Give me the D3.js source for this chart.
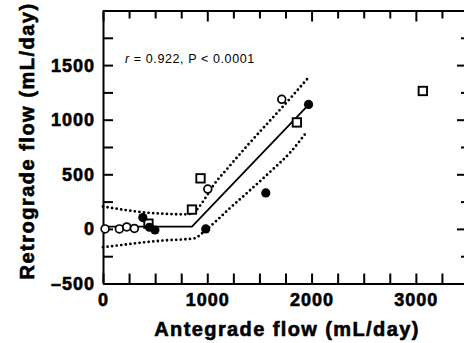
<!DOCTYPE html>
<html lang="en">
<head>
    <title>Retrograde vs antegrade flow</title>
    <script src='https://d3js.org/d3.v7.min.js'></script>
    <style>
        body { margin: 0; background: #fff; }
        text { font-family: "Liberation Sans", Arial, Helvetica, sans-serif; }
        .heavy { font-weight: bold; stroke: black; stroke-width: 0.6px; }
    </style>
</head>
<body>
<script>
    // Data (mL/day)
    const openCircles   = [ {x: 20, y: 0}, {x: 157, y: 0}, {x: 228, y: 18}, {x: 301, y: 4},
                            {x: 1005, y: 365}, {x: 1714, y: 1187} ];
    const filledCircles = [ {x: 382, y: 104}, {x: 445, y: 15}, {x: 498, y: -10},
                            {x: 985, y: 0}, {x: 1561, y: 329}, {x: 1971, y: 1140} ];
    const squares       = [ {x: 436, y: 48}, {x: 853, y: 177}, {x: 935, y: 463},
                            {x: 1859, y: 975}, {x: 3067, y: 1263} ];

    // fitted segmented regression + confidence band
    const fitLine   = [ {x: 0, y: 20}, {x: 853, y: 20}, {x: 1975, y: 1140} ];
    const upperBand = [ {x: 0, y: 205}, {x: 200, y: 175}, {x: 400, y: 150}, {x: 600, y: 138},
                        {x: 780, y: 133}, {x: 860, y: 142}, {x: 920, y: 200}, {x: 1000, y: 310},
                        {x: 1060, y: 400}, {x: 1200, y: 560}, {x: 1400, y: 780}, {x: 1600, y: 990},
                        {x: 1800, y: 1200}, {x: 1960, y: 1375} ];
    const lowerBand = [ {x: 0, y: -168}, {x: 200, y: -145}, {x: 400, y: -122}, {x: 600, y: -105},
                        {x: 800, y: -94}, {x: 880, y: -86}, {x: 950, y: -40}, {x: 1000, y: 0},
                        {x: 1100, y: 85}, {x: 1200, y: 175}, {x: 1400, y: 345}, {x: 1600, y: 520},
                        {x: 1800, y: 705}, {x: 1955, y: 890} ];

    const xMajor = [0, 1000, 2000, 3000];
    const yMajor = [-500, 0, 500, 1000, 1500];
    const annotation = "r = 0.922, P < 0.0001";

    // Dimensions
    const width = 464, height = 343;
    const padLeft = 103, padRight = 468, padTop = 10.5, padBottom = 283.5;

    const svg = d3.select("body")
                  .append("svg")
                  .attr("width", width)
                  .attr("height", height);

    const x = d3.scaleLinear().domain([0, 3500]).range([padLeft, padRight]);
    const y = d3.scaleLinear().domain([-500, 2000]).range([padBottom, padTop]);

    const xTicks = d3.range(0, 3501, 250);
    const yTicks = d3.range(-500, 2001, 250);

    // bottom axis
    svg.append("g")
       .attr("transform", `translate(0,${padBottom})`)
       .call(d3.axisBottom(x).tickValues(xTicks).tickSizeInner(-10).tickSizeOuter(0).tickFormat(""))
       .call(g => g.selectAll("line").attr("stroke-width", 2))
       .call(g => g.select(".domain").attr("stroke-width", 2));

    // top axis
    svg.append("g")
       .attr("transform", `translate(0,${padTop})`)
       .call(d3.axisTop(x).tickValues(xTicks).tickSizeInner(0).tickSizeOuter(0).tickFormat(""))
       .call(g => g.select(".domain").attr("stroke-width", 2))
       .call(g => g.selectAll(".tick line")
                   .attr("y2", d => d % 1000 === 0 ? 11 : 8)
                   .attr("stroke-width", 2));

    // left axis
    svg.append("g")
       .attr("transform", `translate(${padLeft},0)`)
       .call(d3.axisLeft(y).tickValues(yTicks).tickSizeInner(-10).tickSizeOuter(0).tickFormat(""))
       .call(g => g.selectAll("line").attr("stroke-width", 2))
       .call(g => g.select(".domain").attr("stroke-width", 2));

    // right axis
    svg.append("g")
       .attr("transform", `translate(${padRight},0)`)
       .call(d3.axisRight(y).tickValues(yTicks).tickSizeInner(0).tickSizeOuter(0).tickFormat(""))
       .call(g => g.select(".domain").attr("stroke-width", 2))
       .call(g => g.selectAll(".tick line")
                   .attr("x2", d => d % 500 === 0 ? -11 : -7)
                   .attr("stroke-width", 2));

    // tick labels
    svg.selectAll(".xlab")
       .data(xMajor)
       .enter()
       .append("text")
       .attr("class", "heavy")
       .attr("x", d => x(d) + 0.5)
       .attr("y", 305.5)
       .attr("text-anchor", "middle")
       .style("font-size", "18px")
       .style("letter-spacing", "1px")
       .text(d => d);

    svg.selectAll(".ylab")
       .data(yMajor)
       .enter()
       .append("text")
       .attr("class", "heavy")
       .attr("x", 95)
       .attr("y", d => y(d) + 6.5)
       .attr("text-anchor", "end")
       .style("font-size", "18px")
       .style("letter-spacing", "1px")
       .text(d => d < 0 ? "\u2013" + Math.abs(d) : d);

    // axis titles
    svg.append("text")
       .attr("class", "heavy")
       .attr("x", 287)
       .attr("y", 336)
       .attr("text-anchor", "middle")
       .style("font-size", "20px")
       .style("letter-spacing", "1.4px")
       .text("Antegrade flow (mL/day)");

    svg.append("text")
       .attr("class", "heavy")
       .attr("transform", "translate(34,141) rotate(-90)")
       .attr("text-anchor", "middle")
       .style("font-size", "20px")
       .style("letter-spacing", "1.5px")
       .text("Retrograde flow (mL/day)");

    // annotation
    const note = svg.append("text")
       .attr("x", 125)
       .attr("y", 63)
       .style("font-size", "12.5px")
       .style("letter-spacing", "0.6px");
    note.append("tspan").style("font-style", "italic").text(annotation.slice(0, 1));
    note.append("tspan").text(annotation.slice(1));

    const line = d3.line().x(d => x(d.x)).y(d => y(d.y));
    const bandLine = d3.line().x(d => x(d.x)).y(d => y(d.y)).curve(d3.curveMonotoneX);

    // confidence band (dotted)
    [upperBand, lowerBand].forEach(band => {
        svg.append("path")
           .datum(band)
           .attr("fill", "none")
           .attr("stroke", "black")
           .attr("stroke-width", 2.8)
           .attr("stroke-linecap", "round")
           .attr("stroke-dasharray", "0 4.6")
           .attr("d", bandLine);
    });

    // regression line
    svg.append("path")
       .datum(fitLine)
       .attr("fill", "none")
       .attr("stroke", "black")
       .attr("stroke-width", 1.8)
       .attr("d", line);

    // squares
    svg.selectAll(".sq")
       .data(squares)
       .enter()
       .append("rect")
       .attr("x", d => x(d.x) - 4.2)
       .attr("y", d => y(d.y) - 4.2)
       .attr("width", 8.4)
       .attr("height", 8.4)
       .attr("fill", "white")
       .attr("stroke", "black")
       .attr("stroke-width", 1.9);

    // open circles
    svg.selectAll(".oc")
       .data(openCircles)
       .enter()
       .append("circle")
       .attr("cx", d => x(d.x))
       .attr("cy", d => y(d.y))
       .attr("r", 3.9)
       .attr("fill", "white")
       .attr("stroke", "black")
       .attr("stroke-width", 1.7);

    // filled circles
    svg.selectAll(".fc")
       .data(filledCircles)
       .enter()
       .append("circle")
       .attr("cx", d => x(d.x))
       .attr("cy", d => y(d.y))
       .attr("r", 4.6)
       .attr("fill", "black");
</script>
</body>
</html>
